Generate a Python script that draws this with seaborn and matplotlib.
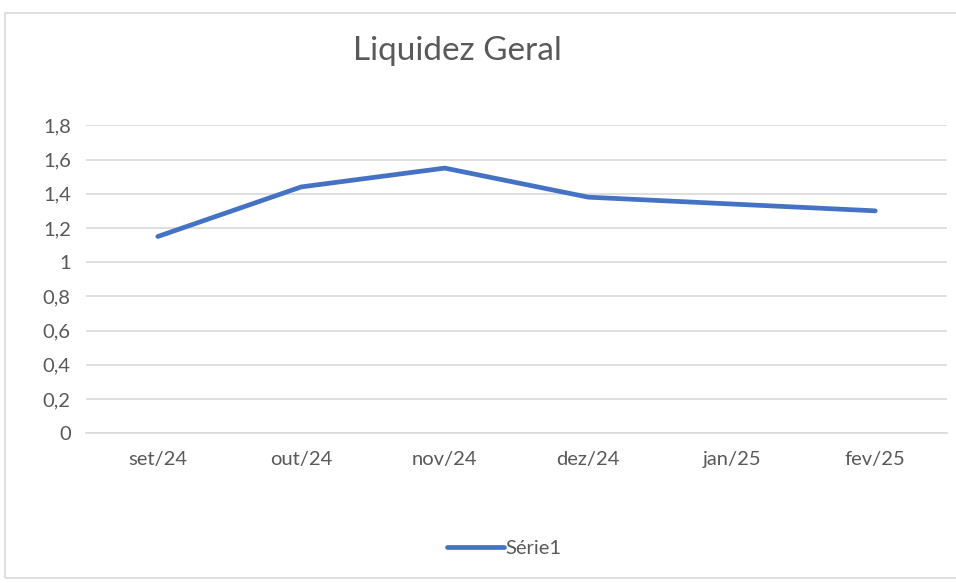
import pandas as pd
import matplotlib.pyplot as plt
import seaborn as sns
from matplotlib.ticker import FuncFormatter, MultipleLocator
from matplotlib.patches import Rectangle

# dados
meses = ['set/24', 'out/24', 'nov/24', 'dez/24', 'jan/25', 'fev/25']
liquidez = [1.15, 1.44, 1.55, 1.38, 1.34, 1.30]
serie = 'Série1'

df = pd.DataFrame({'mes': meses, 'valor': liquidez, 'serie': serie})

sns.set_style('white')
plt.rcParams['font.family'] = ['Lato', 'DejaVu Sans']

fig = plt.figure(figsize=(9.56, 5.83), dpi=100)
ax = fig.add_axes([0.09, 0.257, 0.9006, 0.528])

# moldura do gráfico (estilo Excel)
fig.patches.append(Rectangle((5 / 956, 5 / 583), 1.2, 565 / 583, transform=fig.transFigure,
                             fill=False, edgecolor='#d9d9d9', linewidth=1.2))

sns.lineplot(data=df, x='mes', y='valor', hue='serie', palette=['#4472c4'],
             linewidth=3.4, ax=ax, sort=False)

ax.set_ylim(0, 1.8)
ax.set_xlim(-0.5, len(meses) - 0.5)
ax.yaxis.set_major_locator(MultipleLocator(0.2))
ax.yaxis.set_major_formatter(FuncFormatter(lambda v, p: f'{v:.1f}'.rstrip('0').rstrip('.').replace('.', ',') if v else '0'))
ax.grid(axis='y', color='#d9d9d9', linewidth=1.2)
ax.set_axisbelow(True)
for s in ['top', 'right', 'left']:
    ax.spines[s].set_visible(False)
ax.spines['bottom'].set_color('#d9d9d9')
ax.spines['bottom'].set_linewidth(1.2)
ax.tick_params(axis='both', length=0, labelsize=14.5, colors='#595959')
ax.tick_params(axis='y', pad=11)
ax.tick_params(axis='x', pad=13)
ax.set_xlabel('')
ax.set_ylabel('')

fig.text(0.479, 0.912, 'Liquidez Geral', ha='center', va='center', fontsize=24, color='#595959')

leg = ax.legend(loc='center', bbox_to_anchor=(0.486, -0.375), frameon=False, fontsize=14.5,
                handlelength=2.8, handletextpad=0.1, labelcolor='#595959')
leg.get_lines()[0].set_linewidth(3.4)

plt.savefig('out.png', dpi=100)
plt.close()
